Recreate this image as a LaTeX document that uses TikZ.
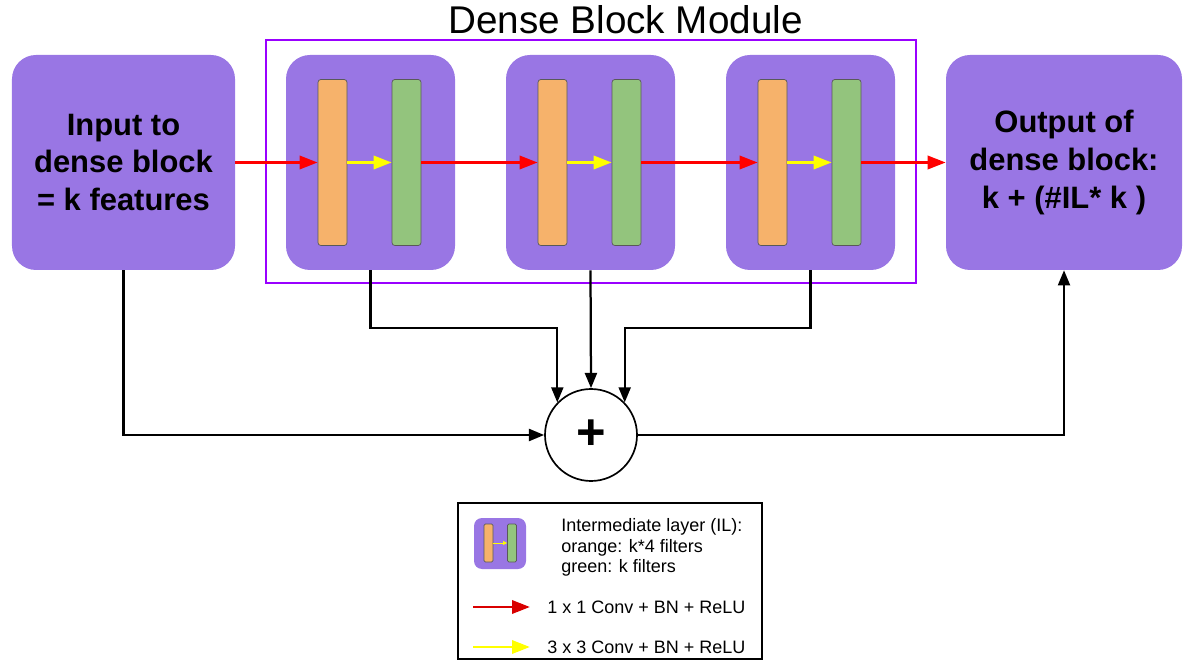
\documentclass[tikz,border=0pt]{standalone}
\usepackage{fontspec}
\setmainfont{Liberation Sans}
\usepackage{xcolor}
\usepackage{tikz}
\usetikzlibrary{arrows.meta,positioning,calc}
\definecolor{blockPurple}{RGB}{153,118,228}
\definecolor{framePurple}{RGB}{153,0,255}
\definecolor{barOrange}{RGB}{246,178,107}
\definecolor{barGreen}{RGB}{147,196,125}
\definecolor{barEdge}{RGB}{89,89,89}
\definecolor{convRed}{RGB}{255,0,0}
\definecolor{convYellow}{RGB}{255,255,0}
\tikzset{
  purplebox/.style={
    rectangle, rounded corners=0.6cm, fill=blockPurple, draw=none,
    minimum height=5.375cm, align=center,
    font=\fontsize{22}{26.7}\selectfont\bfseries
  },
  blockbox/.style={
    rectangle, rounded corners=0.6cm, fill=blockPurple, draw=none,
    minimum width=4.225cm, minimum height=5.375cm
  },
  layerbar/.style={
    rectangle, rounded corners=2pt, draw=barEdge, line width=0.5pt,
    minimum width=0.725cm, minimum height=4.15cm, inner sep=0pt
  },
  redArrow/.style={-{Triangle[length=0.45cm,width=0.33cm]}, line width=2pt, color=convRed},
  yellowArrow/.style={-{Triangle[length=0.45cm,width=0.33cm]}, line width=2pt, color=convYellow},
  skipArrow/.style={-{Triangle[length=0.38cm,width=0.3cm]}, line width=1.6pt, color=black},
  legendtext/.style={anchor=west, inner sep=0pt, align=left,
    font=\fontsize{12.8}{14.6}\selectfont}
}
\begin{document}
\begin{tikzpicture}
        \useasboundingbox (0,0) rectangle (29.6,-16.525);
        % title and module frame
        \node[font=\fontsize{27.5}{30}\selectfont, anchor=base, inner sep=0pt] (title)
          at (15.6375,-0.85) {Dense Block Module};
        \node[rectangle, draw=framePurple, line width=1.1pt,
              minimum width=16.25cm, minimum height=6.075cm] (frame) at (14.775,-4.0375) {};
        % input and output
        \node[purplebox, minimum width=5.575cm] (inbox) at (3.0875,-4.0625)
          {Input to\\dense block\\= k features};
        \node[purplebox, minimum width=5.9cm] (outbox) at (26.6,-4.0625)
          {Output of\\dense block:\\k + (\#IL* k )};
        % intermediate layers
        \node[blockbox] (b1) at (9.2625,-4.0625) {};
        \node[layerbar, fill=barOrange] (o1) at ($(b1)+(-0.95,0)$) {};
        \node[layerbar, fill=barGreen] (g1) at ($(b1)+(0.9,0)$) {};
        \node[blockbox] (b2) at (14.7625,-4.0625) {};
        \node[layerbar, fill=barOrange] (o2) at ($(b2)+(-0.95,0)$) {};
        \node[layerbar, fill=barGreen] (g2) at ($(b2)+(0.9,0)$) {};
        \node[blockbox] (b3) at (20.2625,-4.0625) {};
        \node[layerbar, fill=barOrange] (o3) at ($(b3)+(-0.95,0)$) {};
        \node[layerbar, fill=barGreen] (g3) at ($(b3)+(0.9,0)$) {};
        \draw[redArrow] (inbox.east) -- (o1.west);
        \draw[yellowArrow] (o1.east) -- (g1.west);
        \draw[redArrow] (g1.east) -- (o2.west);
        \draw[yellowArrow] (o2.east) -- (g2.west);
        \draw[redArrow] (g2.east) -- (o3.west);
        \draw[yellowArrow] (o3.east) -- (g3.west);
        \draw[redArrow] (g3.east) -- (outbox.west);
        % concatenation
        \node[circle, draw, line width=1.2pt, fill=white, minimum size=2.3cm, inner sep=0pt,
              font=\fontsize{36}{36}\selectfont\bfseries] (plus) at (14.775,-10.875) {+};
        \coordinate (mergeY) at (0,-8.2);
        \draw[skipArrow] (inbox.south) |- (plus.west);
        \draw[skipArrow] (b1.south) -- (b1.south |- mergeY) -| (plus.136);
        \draw[skipArrow] (b2.south) -- (plus.north);
        \draw[skipArrow] (b3.south) -- (b3.south |- mergeY) -| (plus.44);
        \draw[skipArrow] (plus.east) -| (outbox.south);
        % legend
        \node[rectangle, draw, line width=1.1pt, minimum width=7.6cm, minimum height=3.9cm]
          (legend) at (15.25,-14.525) {};
        \node[rectangle, rounded corners=0.2cm, fill=blockPurple,
              minimum width=1.3cm, minimum height=1.275cm] (legIcon) at (12.5,-13.5875) {};
        \node[layerbar, fill=barOrange, minimum width=0.225cm, minimum height=0.95cm,
              rounded corners=1pt] (legOrange) at (12.2125,-13.575) {};
        \node[layerbar, fill=barGreen, minimum width=0.225cm, minimum height=0.95cm,
              rounded corners=1pt] (legGreen) at (12.8,-13.575) {};
        \draw[-{Triangle[length=0.1cm,width=0.09cm]}, line width=0.6pt, color=convYellow]
          (legOrange.east) -- (legGreen.west);
        \node[legendtext] (legText) at (14.025,-13.69)
          {Intermediate layer (IL):\\orange: k*4 filters\\green: k filters};
        \node[legendtext] (redText) at (13.675,-15.175) {1 x 1 Conv + BN + ReLU};
        \node[legendtext] (yellowText) at (13.675,-16.175) {3 x 3 Conv + BN + ReLU};
        \coordinate (redFrom) at (11.825,-15.175);
        \coordinate (redTo) at (13.25,-15.175);
        \coordinate (yellowFrom) at (11.825,-16.175);
        \coordinate (yellowTo) at (13.25,-16.175);
        \draw[redArrow, color=convRed!85!black] (redFrom) -- (redTo);
        \draw[yellowArrow] (yellowFrom) -- (yellowTo);
      \end{tikzpicture}
\end{document}
